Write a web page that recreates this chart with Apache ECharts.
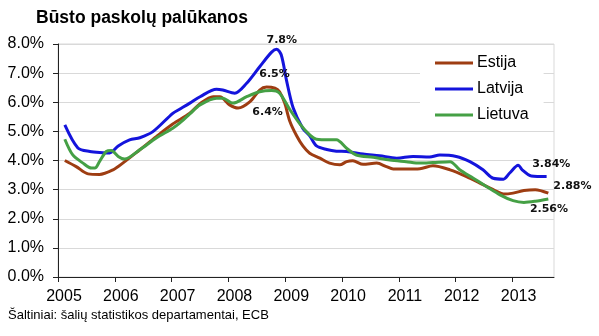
<!DOCTYPE html>
<html>
<head>
<meta charset="utf-8">
<script src="https://cdn.jsdelivr.net/npm/echarts@6/dist/echarts.min.js"></script>
<style>
  html, body { margin: 0; padding: 0; background: #fff; }
  #chart { width: 599px; height: 336px; }
</style>
</head>
<body>
<div id="chart"></div>
<script>
// Mortgage interest rates in the Baltic states, % (x = year as a decimal)
const yearTicks = [2005, 2006, 2007, 2008, 2009, 2010, 2011, 2012, 2013];
const yTicks = [0, 1, 2, 3, 4, 5, 6, 7, 8];

const estija = [
  [2005.12, 4.00], [2005.32, 3.79], [2005.53, 3.54], [2005.73, 3.52], [2005.97, 3.68],
  [2006.14, 3.91], [2006.44, 4.37], [2006.73, 4.82], [2007.02, 5.25], [2007.32, 5.62],
  [2007.50, 5.95], [2007.73, 6.19], [2007.85, 6.19], [2008.02, 5.91], [2008.17, 5.80],
  [2008.38, 6.02], [2008.55, 6.42], [2008.67, 6.52], [2008.82, 6.48], [2008.90, 6.36],
  [2008.99, 5.97], [2009.08, 5.35], [2009.20, 4.85], [2009.31, 4.50], [2009.43, 4.25],
  [2009.61, 4.08], [2009.78, 3.91], [2009.96, 3.85], [2010.08, 3.96], [2010.19, 3.99],
  [2010.37, 3.87], [2010.61, 3.91], [2010.78, 3.79], [2010.90, 3.71], [2011.13, 3.71],
  [2011.37, 3.72], [2011.60, 3.82], [2011.90, 3.68], [2012.19, 3.45], [2012.48, 3.17],
  [2012.72, 2.94], [2012.84, 2.85], [2013.01, 2.88], [2013.20, 2.97], [2013.40, 3.00],
  [2013.63, 2.88]
];

const latvija = [
  [2005.12, 5.22], [2005.35, 4.43], [2005.56, 4.31], [2005.79, 4.27], [2005.91, 4.26],
  [2006.06, 4.50], [2006.26, 4.71], [2006.44, 4.78], [2006.67, 4.99], [2007.02, 5.62],
  [2007.14, 5.76], [2007.32, 5.97], [2007.50, 6.19], [2007.79, 6.45], [2007.90, 6.42],
  [2008.11, 6.31], [2008.32, 6.65], [2008.55, 7.22], [2008.76, 7.72], [2008.85, 7.82],
  [2008.93, 7.62], [2009.02, 6.77], [2009.14, 5.80], [2009.31, 5.10], [2009.43, 4.85],
  [2009.55, 4.50], [2009.73, 4.38], [2009.90, 4.32], [2010.08, 4.31], [2010.37, 4.22],
  [2010.66, 4.16], [2010.96, 4.08], [2011.25, 4.14], [2011.54, 4.12], [2011.72, 4.19],
  [2012.01, 4.14], [2012.25, 3.96], [2012.48, 3.68], [2012.66, 3.39], [2012.84, 3.36],
  [2012.95, 3.57], [2013.10, 3.84], [2013.17, 3.68], [2013.33, 3.47], [2013.60, 3.45]
];

const lietuva = [
  [2005.12, 4.73], [2005.26, 4.19], [2005.44, 3.91], [2005.59, 3.74], [2005.65, 3.74],
  [2005.73, 3.96], [2005.85, 4.31], [2005.94, 4.34], [2006.06, 4.14], [2006.17, 4.05],
  [2006.44, 4.37], [2006.73, 4.77], [2007.02, 5.11], [2007.14, 5.28], [2007.32, 5.60],
  [2007.50, 5.91], [2007.79, 6.14], [2007.90, 6.14], [2008.08, 5.97], [2008.32, 6.19],
  [2008.55, 6.36], [2008.76, 6.40], [2008.90, 6.31], [2009.08, 5.75], [2009.26, 5.25],
  [2009.43, 4.88], [2009.55, 4.73], [2009.78, 4.71], [2009.90, 4.71], [2010.08, 4.42],
  [2010.25, 4.19], [2010.55, 4.11], [2010.84, 4.02], [2011.13, 3.96], [2011.37, 3.91],
  [2011.60, 3.93], [2011.90, 3.96], [2012.07, 3.68], [2012.31, 3.39], [2012.54, 3.11],
  [2012.78, 2.82], [2013.01, 2.62], [2013.20, 2.56], [2013.40, 2.60], [2013.63, 2.68]
];

// Value callouts: which point of which series gets a label, and how it is placed
const callouts = [
  { series: 'Latvija', year: 2008.85, digits: 1, position: 'top', offset: [5, 1] },
  { series: 'Estija', year: 2008.67, digits: 1, position: 'top', offset: [8, -2] },
  { series: 'Lietuva', year: 2008.76, digits: 1, position: 'bottom', offset: [-4, 11] },
  { series: 'Latvija', year: 2013.10, digits: 2, position: 'right', offset: [9, -1] },
  { series: 'Estija', year: 2013.63, digits: 2, position: 'right', offset: [0, -7] },
  { series: 'Lietuva', year: 2013.20, digits: 2, position: 'right', offset: [1, 7] }
];

const seriesDefs = [
  { name: 'Estija', data: estija, color: '#9E3D12' },
  { name: 'Latvija', data: latvija, color: '#1414DC' },
  { name: 'Lietuva', data: lietuva, color: '#45A045' }
];

const FONT = '"Liberation Sans", Arial, sans-serif';

function buildData(def) {
  return def.data.map(function (p) {
    const c = callouts.find(function (k) { return k.series === def.name && k.year === p[0]; });
    if (!c) return p;
    return {
      value: p,
      label: {
        show: true,
        position: c.position,
        offset: c.offset,
        formatter: p[1].toFixed(c.digits) + '%',
        fontFamily: '"DejaVu Sans", Verdana, sans-serif',
        fontWeight: 'bold',
        fontSize: 11,
        color: '#111'
      }
    };
  });
}

const chart = echarts.init(document.getElementById('chart'), null, { renderer: 'canvas' });

chart.setOption({
  animation: false,
  backgroundColor: '#fff',
  title: {
    text: 'Būsto paskolų palūkanos',
    left: 36,
    top: 9,
    padding: 0,
    textStyle: { fontFamily: FONT, fontWeight: 'bold', fontSize: 17.5, color: '#000' }
  },
  legend: {
    orient: 'vertical',
    left: 420,
    top: 50,
    padding: [5, 15, 5, 15],
    backgroundColor: '#fff',
    itemWidth: 38,
    itemHeight: 3,
    itemGap: 10,
    icon: 'rect',
    textStyle: { fontFamily: FONT, fontSize: 16, color: '#000', lineHeight: 16, padding: [0, 0, 0, -1] },
    data: seriesDefs.map(function (d) { return d.name; })
  },
  grid: {
    left: 58,
    right: 45,
    top: 44,
    bottom: 59,
    show: true,
    borderColor: '#d9d9d9',
    borderWidth: 1
  },
  xAxis: {
    type: 'value',
    min: 2005,
    max: 2013.73,
    axisLine: { show: true, lineStyle: { color: '#222', width: 1 } },
    axisTick: { show: true, length: 5, lineStyle: { color: '#222' }, customValues: yearTicks },
    axisLabel: {
      customValues: yearTicks,
      margin: 12,
      padding: [0, 0, 0, 12],
      fontFamily: FONT,
      fontSize: 16,
      color: '#000',
      formatter: function (v) { return String(v); }
    },
    splitLine: { show: false }
  },
  yAxis: {
    type: 'value',
    min: 0,
    max: 8,
    interval: 1,
    axisLine: { show: true, lineStyle: { color: '#222', width: 1 } },
    axisTick: { show: true, length: 5, lineStyle: { color: '#222' } },
    axisLabel: {
      margin: 14,
      fontFamily: FONT,
      fontSize: 16,
      color: '#000',
      formatter: function (v) { return yTicks.indexOf(v) >= 0 ? v.toFixed(1) + '%' : ''; }
    },
    splitLine: { show: true, lineStyle: { color: '#d9d9d9', width: 1 } }
  },
  graphic: [{
    type: 'text',
    left: 8,
    top: 309,
    style: {
      text: 'Šaltiniai: šalių statistikos departamentai, ECB',
      fontFamily: FONT,
      fontSize: 13,
      fill: '#000'
    }
  }],
  series: seriesDefs.map(function (def) {
    return {
      name: def.name,
      type: 'line',
      data: buildData(def),
      smooth: 0.3,
      symbol: 'circle',
      symbolSize: 0,
      showSymbol: true,
      color: def.color,
      lineStyle: { color: def.color, width: 3 },
      itemStyle: { color: def.color },
      emphasis: { disabled: true },
      z: def.name === 'Lietuva' ? 4 : 3
    };
  })
});
</script>
</body>
</html>
